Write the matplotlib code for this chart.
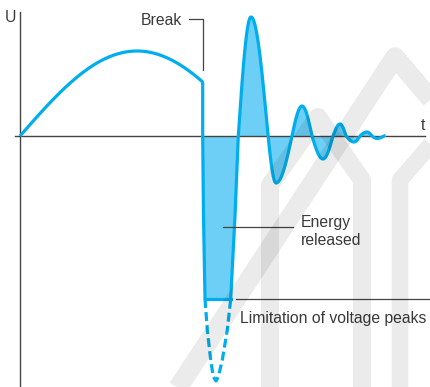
import numpy as np
import matplotlib
matplotlib.use("Agg")
import matplotlib.pyplot as plt

# readings from the picture (t and U in pixel-like units, origin at the axes cross)
arc_t = [0, 117, 234]          # first half-wave before the break (zero, peak, virtual zero)
arc_u = [0, 85, 0]
break_t = 182.7                # contact breaks here
break_u = 53

# deep negative swing after the break (partly cut off by the limiter)
trough_t = [182.7, 183.5, 185, 187.3, 190.7, 193.3, 196, 198.3, 202.3, 207.3, 210.7, 215, 218.3]
trough_u = [0, -80, -163, -194, -224, -240.7, -245, -240.7, -224, -194, -163, -80, 0]

# damped ringing: zero crossings and extrema
ring_t = [218.3, 231, 248, 256, 272, 282, 292, 303, 313, 320, 326, 334, 340, 347, 352, 357, 364]
ring_u = [0, 119, 0, -47, 0, 30, 0, -23, 0, 12, 0, -6, 0, 4, 0, -2.5, 0]

clip_u = -163                  # limitation of voltage peaks

LINE = "#00aeef"
FILL = "#6dcff6"
TXT = "#3a3a3a"
AX = "#444444"


def wave(ts, us, n=30):
    # quarter-sine pieces between zero crossings and extrema
    tt, uu = [ts[0]], [us[0]]
    for i in range(len(ts) - 1):
        t0, t1, u0, u1 = ts[i], ts[i + 1], us[i], us[i + 1]
        s = np.linspace(0, 1, n)[1:]
        if u0 == 0:
            u = u1 * np.sin(np.pi / 2 * s)
        elif u1 == 0:
            u = u0 * np.cos(np.pi / 2 * s)
        else:
            u = u0 + (u1 - u0) * s
        tt.extend(t0 + (t1 - t0) * s)
        uu.extend(u)
    return np.array(tt), np.array(uu)


fig = plt.figure(figsize=(4.3, 3.87), dpi=100)
ax = fig.add_axes([0, 0, 1, 1])
ax.set_xlim(-20, 410)
ax.set_ylim(-251, 136)
ax.axis("off")

# first half wave up to the break
at, au = wave(arc_t, arc_u, 80)
keep = at < break_t
at = np.append(at[keep], break_t)
au = np.append(au[keep], break_u)

rt, ru = wave(ring_t, ring_u, 30)
tr_t = np.array(trough_t)
tr_u = np.array(trough_u)

# filled energy area (clipped at the limiter level)
ft = np.concatenate([tr_t, rt[1:]])
fu = np.concatenate([tr_u, ru[1:]])
ax.fill_between(ft, 0, np.maximum(fu, clip_u), color=FILL, lw=0, zorder=1)

# axes
ax.plot([0, 0], [124, -251], color=AX, lw=1.0, zorder=2)
ax.plot([-5, 405], [0, 0], color=AX, lw=1.0, zorder=2)

# curve: solid above limiter, dashed below
i_lo = 2
i_hi = 10
solid_t = np.concatenate([at, tr_t[:i_lo + 1]])
solid_u = np.concatenate([au, tr_u[:i_lo + 1]])
ax.plot(solid_t, solid_u, color=LINE, lw=2.3, solid_capstyle="butt", solid_joinstyle="round", zorder=3)
ax.plot(tr_t[i_lo:i_hi + 1], tr_u[i_lo:i_hi + 1], color=LINE, lw=2.3,
        ls=(0, (2.8, 1.3)), zorder=3)
ax.plot(np.concatenate([tr_t[i_hi:], rt[1:]]), np.concatenate([tr_u[i_hi:], ru[1:]]),
        color=LINE, lw=2.3, solid_joinstyle="round", zorder=3)
ax.plot([tr_t[i_lo], tr_t[i_hi]], [clip_u, clip_u], color=LINE, lw=2.3, zorder=3)

# annotations
ax.plot([169, 182.7, 182.7], [117, 117, 66], color=AX, lw=0.9, zorder=2)
ax.plot([202.7, 273.3], [-91, -91], color=AX, lw=0.9, zorder=4)
ax.plot([216, 410], [-163, -163], color=AX, lw=0.9, zorder=2)

fs = 11.3
kw = dict(color=TXT, fontsize=fs, family=["Liberation Sans", "DejaVu Sans"])
ax.text(-9.5, 114.3, "U", ha="center", va="baseline", **kw)
ax.text(402.5, 6, "t", ha="center", va="baseline", **kw)
ax.text(162, 111, "Break", ha="right", va="baseline", **kw)
ax.text(280.7, -90.7, "Energy", ha="left", va="baseline", **kw)
ax.text(280.7, -109, "released", ha="left", va="baseline", **kw)
ax.text(220, -187.3, "Limitation of voltage peaks", ha="left", va="baseline", **kw)

# faint background watermark arches
wm = dict(color="black", alpha=0.08, solid_joinstyle="round", solid_capstyle="butt", zorder=5)
ax.plot([150, 375, 420], [-264, 79, 26], lw=14, **wm)
ax.plot([250, 250, 298, 342, 342], [-264, -49, 19, -44, -264], lw=13, **wm)
ax.plot([380, 380, 420], [-264, -44, 2], lw=12, **wm)

fig.savefig("out.png", dpi=100)
